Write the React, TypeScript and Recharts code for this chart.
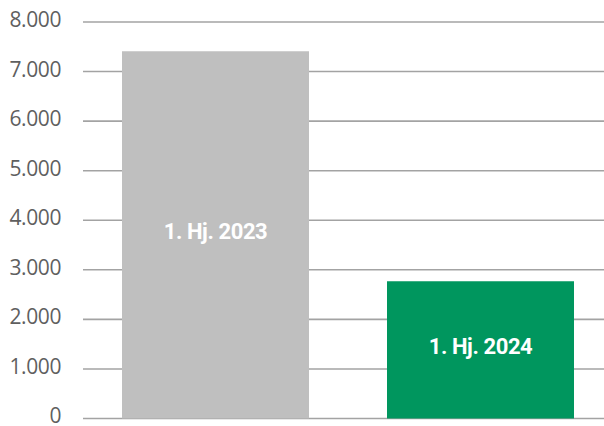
import { BarChart, Bar, XAxis, YAxis, CartesianGrid, Cell, LabelList } from 'recharts';

const periods = ['1. Hj. 2023', '1. Hj. 2024'];
const values = [7410, 2770];
const barColors = ['#bfbfbf', '#00965e'];
const yTicks = [0, 1000, 2000, 3000, 4000, 5000, 6000, 7000, 8000];

const data = periods.map((p, i) => ({ period: p, value: values[i] }));

// German thousands separator
const fmt = (v: number) => String(v).replace(/\B(?=(\d{3})+(?!\d))/g, '.');

const renderLabel = (props: any) => {
  const { x, y, width, height, value } = props;
  return (
    <text
      x={x + width / 2}
      y={y + height / 2 - 3}
      fill="#ffffff"
      textAnchor="middle"
      dominantBaseline="central"
      fontFamily="Roboto, sans-serif"
      fontWeight="bold"
      fontSize={22}
      letterSpacing={-0.4}
    >
      {value}
    </text>
  );
};

export default function App() {
  return (
    <div style={{ position: 'absolute', left: 0, top: 0, width: 604, height: 426, overflow: 'hidden', background: '#fff' }}>
      <BarChart
        width={613}
        height={426}
        data={data}
        margin={{ top: 22, right: 0, left: 0, bottom: 7.5 }}
        barCategoryGap={39}
      >
        <CartesianGrid vertical={false} stroke="#a3a3a3" strokeWidth={1.6} />
        <XAxis dataKey="period" hide />
        <YAxis
          width={83}
          domain={[0, 8000]}
          ticks={yTicks}
          interval={0}
          tickFormatter={fmt}
          axisLine={false}
          tickLine={false}
          tickMargin={16}
          tick={{ fill: '#5f5f5f', fontSize: 21, fontFamily: "'Open Sans', sans-serif", letterSpacing: -0.4, dy: -2.5 }}
        />
        <Bar dataKey="value" isAnimationActive={false}>
          {data.map((d, i) => (
            <Cell key={d.period} fill={barColors[i]} />
          ))}
          <LabelList dataKey="period" content={renderLabel} />
        </Bar>
      </BarChart>
    </div>
  );
}
